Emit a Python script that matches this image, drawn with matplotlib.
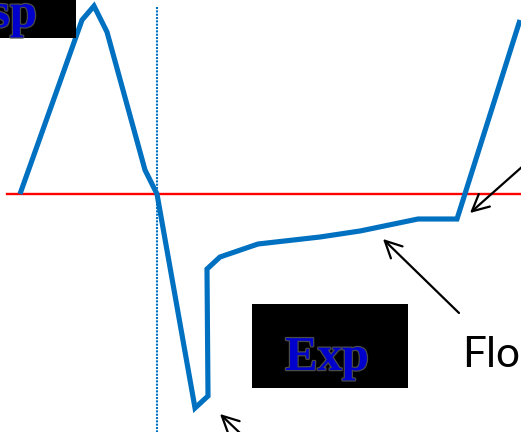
import matplotlib
matplotlib.use("Agg")
import matplotlib.pyplot as plt
import matplotlib.patheffects as pe
from matplotlib.patches import Rectangle

# Curve vertices (diagram units: x to the right, y downward)
curve_x = [20, 82, 94, 107, 145, 157, 195, 208, 207, 220, 258, 320, 360, 418, 457, 520]
curve_y = [194, 20, 6, 32, 170, 194, 408, 396, 269, 257, 244, 237, 231, 219, 219, 20]

baseline_y = 194
baseline_x = [7, 521]
marker_x = 157
marker_y = [7, 432]

label_boxes = [(0, 0, 76, 38), (252, 304, 156, 84)]
label_texts = ["sp", "Exp"]
label_pos = [(37, 27), (327, 370)]
label_ha = ["right", "center"]

side_text = "Flo"
side_pos = (462, 367)

arrow_tails = [(241, 434), (459, 313), (523, 166)]
arrow_tips = [(220, 414), (383, 239), (470, 213)]

BLUE = "#0070C0"

fig = plt.figure(figsize=(5.21, 4.32), dpi=100)
ax = fig.add_axes([0, 0, 1, 1])
ax.set_xlim(0, 521)
ax.set_ylim(432, 0)
ax.axis("off")

ax.plot(baseline_x, [baseline_y, baseline_y], color="#FF0000", lw=1.7, zorder=2)
ax.plot([marker_x, marker_x], marker_y, color=BLUE, lw=1.5,
        linestyle=(0, (1, 0.6)), zorder=2)
ax.plot(curve_x, curve_y, color=BLUE, lw=3.7, solid_joinstyle="miter",
        solid_capstyle="butt", zorder=3)

for (bx, by, bw, bh) in label_boxes:
    ax.add_patch(Rectangle((bx, by), bw, bh, facecolor="black",
                           edgecolor="none", zorder=4))

for t, (tx, ty), ha in zip(label_texts, label_pos, label_ha):
    ax.text(tx, ty, t, ha=ha, va="baseline", fontsize=35,
            family="Liberation Serif", fontweight="bold", color="#0000CC",
            zorder=5, clip_on=True,
            path_effects=[pe.Stroke(linewidth=1.8, foreground="#4a4a4a"),
                          pe.Normal()])

ax.text(side_pos[0], side_pos[1], side_text, ha="left", va="baseline",
        fontsize=30.5, family="Lato", color="black",
        zorder=5, clip_on=True)

for (tx, ty), (hx, hy) in zip(arrow_tails, arrow_tips):
    ax.annotate("", xy=(hx, hy), xytext=(tx, ty),
                arrowprops=dict(arrowstyle="->,head_length=0.6,head_width=0.3",
                                color="black", lw=1.6, mutation_scale=20,
                                shrinkA=0, shrinkB=0),
                zorder=6, annotation_clip=False)

fig.savefig("out.png", dpi=100)
